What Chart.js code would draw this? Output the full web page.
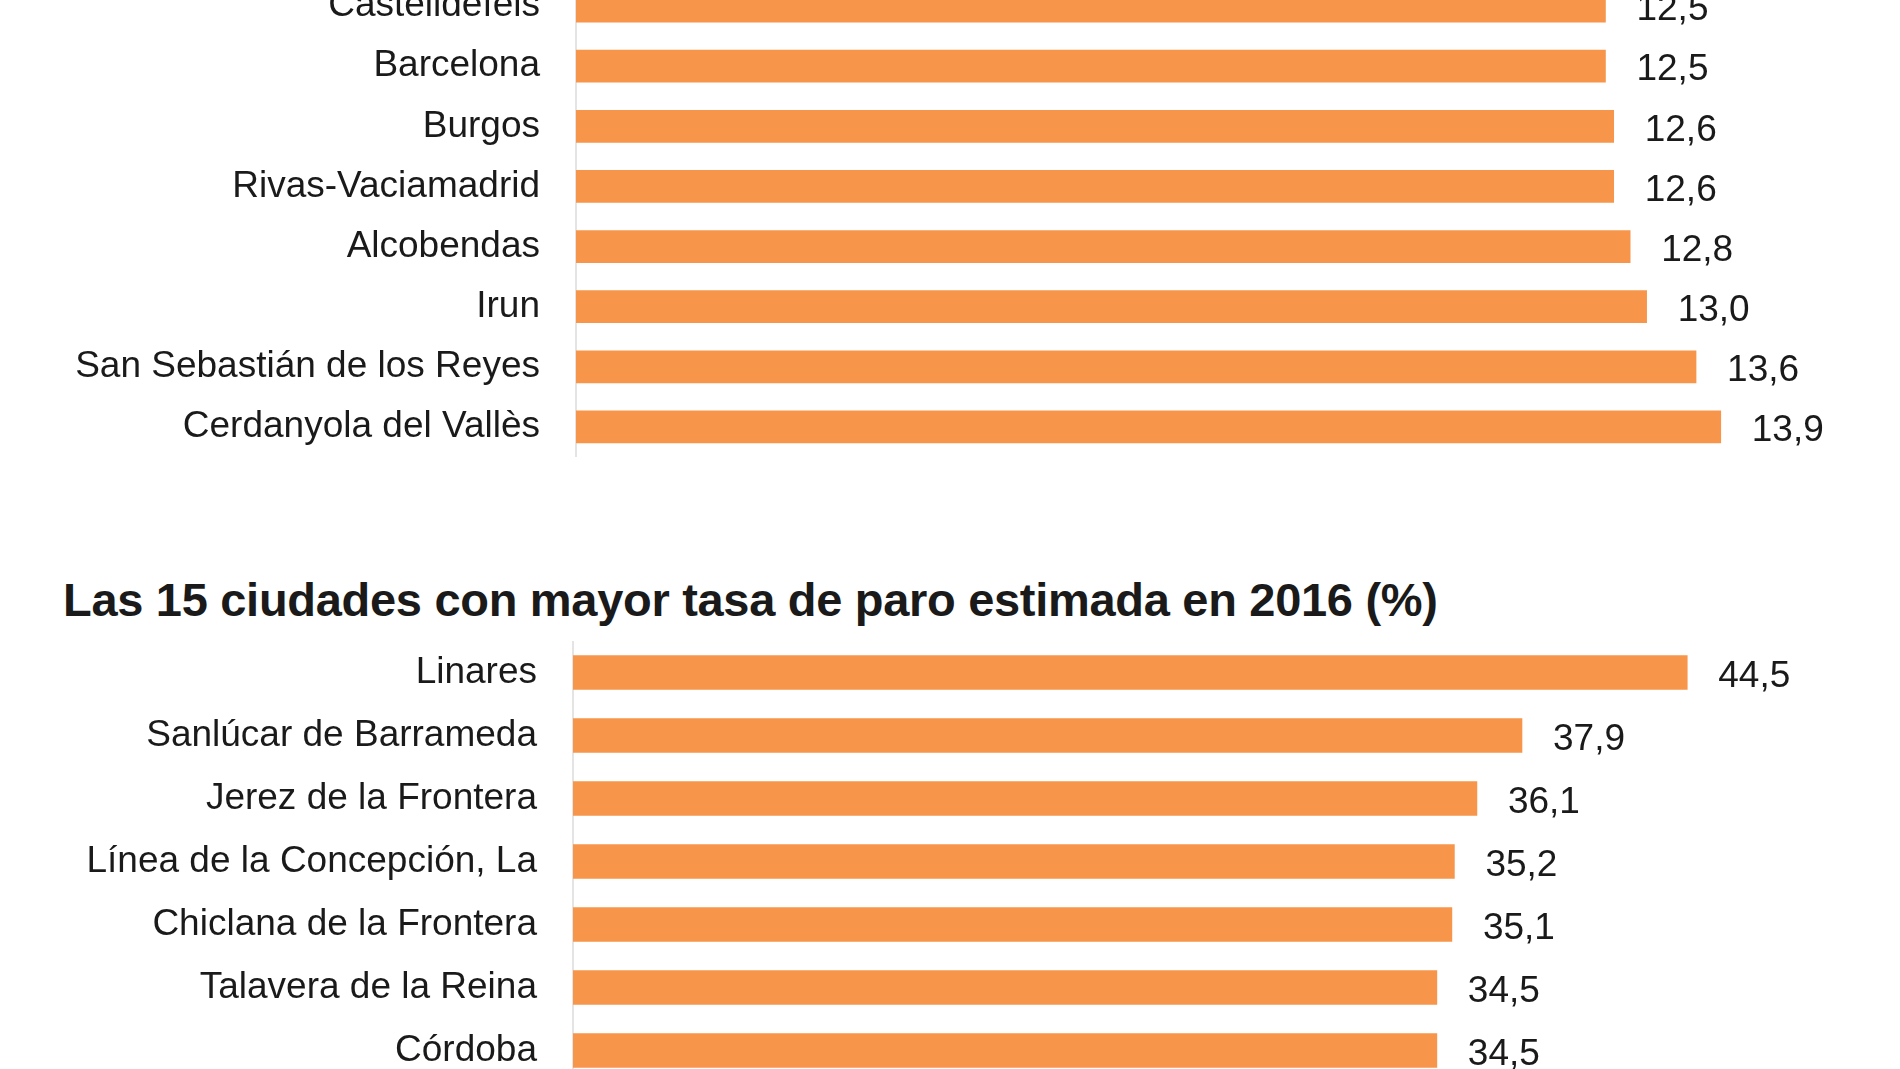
<!DOCTYPE html>
<html><head><meta charset="utf-8">
<script src="https://cdn.jsdelivr.net/npm/chart.js@4"></script>
<style>
html,body{margin:0;padding:0;background:#fff;width:1900px;height:1069px;overflow:hidden;position:relative;font-family:"Liberation Sans",Arial,sans-serif}
.box{position:absolute;left:0;width:1900px}
#title{position:absolute;left:63px;top:572px;font-size:47px;line-height:56px;font-weight:bold;color:#1a1a1a;white-space:nowrap;letter-spacing:-0.3px}
</style></head><body>
<div class="box" id="b1" style="top:-24px;height:481px"><canvas id="c1"></canvas></div>
<div id="title">Las 15 ciudades con mayor tasa de paro estimada en 2016 (%)</div>
<div class="box" id="b2" style="top:641px;height:441px"><canvas id="c2"></canvas></div>
<script>
const topCities = ["Castelldefels","Barcelona","Burgos","Rivas-Vaciamadrid","Alcobendas","Irun","San Sebastián de los Reyes","Cerdanyola del Vallès"];
const topValues = [12.5,12.5,12.6,12.6,12.8,13.0,13.6,13.9];
const bottomCities = ["Linares","Sanlúcar de Barrameda","Jerez de la Frontera","Línea de la Concepción, La","Chiclana de la Frontera","Talavera de la Reina","Córdoba"];
const bottomValues = [44.5,37.9,36.1,35.2,35.1,34.5,34.5];

const orange = "#F7964A";
const FONT = "'Liberation Sans', Arial, sans-serif";
const valuePlugin = {
  id:"vals",
  afterDatasetsDraw(chart){
    const ctx=chart.ctx; const meta=chart.getDatasetMeta(0);
    ctx.save(); ctx.font="37px "+FONT; ctx.fillStyle="#1a1a1a";
    ctx.textBaseline="middle"; ctx.textAlign="left";
    meta.data.forEach((bar,i)=>{
      const v=chart.data.datasets[0].data[i];
      ctx.fillText(v.toFixed(1).replace(".",","), bar.x+31, bar.y+4);
    });
    ctx.restore();
  }
};
function make(id, labels, values, max, axisLeft, rightPad, thick){
  new Chart(document.getElementById(id),{
    type:"bar",
    data:{labels, datasets:[{data:values, backgroundColor:orange, barThickness:thick}]},
    options:{
      indexAxis:"y", responsive:true, maintainAspectRatio:false, animation:false,
      layout:{padding:{left:0,right:rightPad,top:0,bottom:0}},
      plugins:{legend:{display:false},tooltip:{enabled:false}},
      scales:{
        x:{display:false,min:0,max:max},
        y:{
          afterFit(s){s.width=axisLeft; s.paddingTop=0; s.paddingBottom=0;},
          grid:{display:false,drawTicks:false},
          border:{display:true,color:"#e4e4e4",width:2},
          ticks:{color:"#1a1a1a",padding:36,autoSkip:false,font:{size:37,family:FONT}}
        }
      }
    },
    plugins:[valuePlugin]
  });
}
make("c1", topCities, topValues, 15.7, 576, 31, 32);
make("c2", bottomCities, bottomValues, 50.8, 573, 55, 34);
</script>
</body></html>
